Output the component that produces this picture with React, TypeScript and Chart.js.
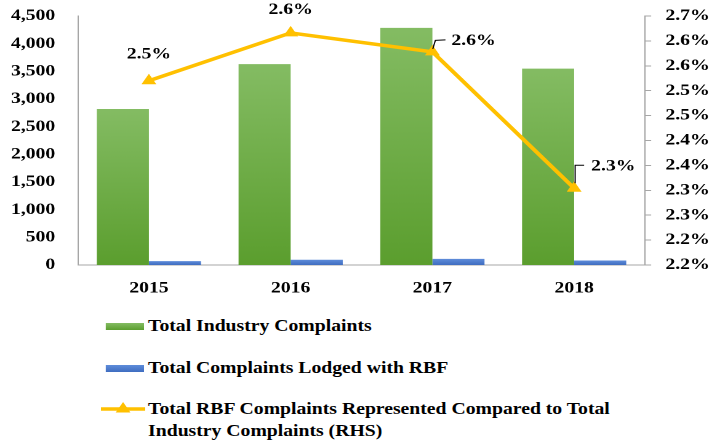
import React, { useEffect, useRef } from 'react';
import { Chart, registerables } from 'chart.js';

Chart.register(...registerables);

// ---------- data ----------
const categories = ['2015', '2016', '2017', '2018'];
const industryComplaints = [2820, 3630, 4285, 3550];
const rbfComplaints = [71, 95, 110, 82];
const rbfShare = [2.52, 2.616, 2.578, 2.304];

const leftTickValues = [0, 500, 1000, 1500, 2000, 2500, 3000, 3500, 4000, 4500];
const rightTickValues = [2.15, 2.2, 2.25, 2.3, 2.35, 2.4, 2.45, 2.5, 2.55, 2.6, 2.65];
const rightTickLabels = ['2.2%', '2.2%', '2.3%', '2.3%', '2.4%', '2.4%', '2.5%', '2.5%', '2.6%', '2.6%', '2.7%'];

const seriesNames = [
  'Total Industry Complaints',
  'Total Complaints Lodged with RBF',
  'Total RBF Complaints Represented Compared to Total',
  'Industry Complaints (RHS)',
];

// ---------- styling / layout ----------
const W = 585; // logical width, stretched horizontally to 720
const SX = 720 / W;
const CH = 300;
const FONT_FAMILY = '"Liberation Serif", "Times New Roman", serif';
const AXIS = '#A6A6A6';
const YELLOW = '#FFC000';

const labelLayout = [
  { dx: 0, dy: -26.5, align: 'center', leader: null },
  { dx: 0, dy: -23, align: 'center', leader: null },
  { dx: 15.4, dy: -11, align: 'left', leader: [[0.3, -3], [2.4, -11.5], [10.6, -12]] },
  { dx: 13.8, dy: -22, align: 'left', leader: [[0.8, -5], [0.8, -23], [8.1, -23]] },
];

const barGradient = (top: string, bottom: string, fallback: string) => (ctx: any) => {
  const chart = ctx.chart;
  const { chartArea, scales } = chart;
  if (!chartArea || ctx.type !== 'data' || !scales.y) return fallback;
  const v = ctx.raw as number;
  const yTop = scales.y.getPixelForValue(v);
  const yBot = scales.y.getPixelForValue(0);
  if (!isFinite(yTop) || !isFinite(yBot) || yBot - yTop < 0.5) return fallback;
  const g = chart.ctx.createLinearGradient(0, yTop, 0, yBot);
  g.addColorStop(0, top);
  g.addColorStop(1, bottom);
  return g;
};

const shareLabelPlugin = {
  id: 'shareLabels',
  afterDatasetsDraw(chart: any) {
    const meta = chart.getDatasetMeta(2);
    const ctx = chart.ctx;
    ctx.save();
    ctx.font = `bold 16px ${FONT_FAMILY}`;
    ctx.fillStyle = '#000';
    ctx.strokeStyle = '#000';
    ctx.lineWidth = 1;
    meta.data.forEach((pt: any, i: number) => {
      const lay = labelLayout[i];
      if (lay.leader) {
        ctx.beginPath();
        lay.leader.forEach(([lx, ly], k) => {
          if (k === 0) ctx.moveTo(pt.x + lx, pt.y + ly);
          else ctx.lineTo(pt.x + lx, pt.y + ly);
        });
        ctx.stroke();
      }
      ctx.textAlign = lay.align;
      ctx.textBaseline = 'middle';
      ctx.fillText(rbfShare[i].toFixed(1) + '%', pt.x + lay.dx, pt.y + lay.dy);
    });
    ctx.restore();
  },
};

const tickFont = { family: FONT_FAMILY, size: 16, weight: 'bold' as const };

export default function App() {
  const ref = useRef<HTMLCanvasElement>(null);

  useEffect(() => {
    const chart = new Chart(ref.current as HTMLCanvasElement, {
      type: 'bar',
      data: {
        labels: categories,
        datasets: [
          {
            type: 'bar',
            label: seriesNames[0],
            data: industryComplaints,
            backgroundColor: barGradient('#84BC63', '#5B9E2E', '#6CAC45'),
            borderWidth: 0,
            categoryPercentage: 0.735,
            barPercentage: 1.0,
            yAxisID: 'y',
            order: 1,
          },
          {
            type: 'bar',
            label: seriesNames[1],
            data: rbfComplaints,
            backgroundColor: barGradient('#5E8CDA', '#3F6DC0', '#4A78C8'),
            borderWidth: 0,
            categoryPercentage: 0.735,
            barPercentage: 1.0,
            yAxisID: 'y',
            order: 2,
          },
          {
            type: 'line',
            label: seriesNames[2] + ' ' + seriesNames[3],
            data: rbfShare,
            borderColor: YELLOW,
            backgroundColor: YELLOW,
            borderWidth: 3.5,
            pointStyle: 'triangle',
            pointRadius: 7,
            pointBorderWidth: 0,
            pointBackgroundColor: YELLOW,
            tension: 0,
            yAxisID: 'y1',
            order: 0,
          } as any,
        ],
      },
      options: {
        animation: false,
        responsive: false,
        devicePixelRatio: 2,
        layout: { padding: { top: 16, left: 0, right: 0, bottom: 0 } },
        plugins: {
          legend: { display: false },
          tooltip: { enabled: false },
        },
        scales: {
          x: {
            type: 'category',
            grid: { display: false, drawTicks: false },
            border: { display: true, color: AXIS, width: 1 },
            ticks: { font: tickFont, color: '#000', padding: 14 },
            afterFit: (s: any) => { s.height = CH - 265; },
          },
          y: {
            position: 'left',
            min: 0,
            max: 4500,
            afterBuildTicks: (s: any) => { s.ticks = leftTickValues.map((v) => ({ value: v })); },
            ticks: {
              font: tickFont,
              color: '#000',
              padding: 18.5,
              callback: (v: any) => Number(v).toLocaleString('en-US'),
            },
            grid: { display: false, drawTicks: false },
            border: { display: true, color: AXIS, width: 1 },
            afterFit: (s: any) => {
              s.width = 78 / SX;
              s.paddingTop = 0;
              s.paddingBottom = 0;
            },
          },
          y1: {
            position: 'right',
            min: 2.15,
            max: 2.65,
            afterBuildTicks: (s: any) => { s.ticks = rightTickValues.map((v) => ({ value: v })); },
            ticks: {
              font: tickFont,
              color: '#000',
              padding: 11.5,
              callback: (_v: any, i: number) => rightTickLabels[i],
            },
            grid: { drawOnChartArea: false, drawTicks: true, tickLength: 5, color: AXIS },
            border: { display: true, color: AXIS, width: 1 },
            afterFit: (s: any) => {
              s.width = W - 645 / SX;
              s.paddingTop = 0;
              s.paddingBottom = 0;
            },
          },
        },
      },
      plugins: [shareLabelPlugin],
    } as any);
    return () => chart.destroy();
  }, []);

  const textStyle: React.CSSProperties = {
    position: 'absolute',
    left: 120.3,
    fontFamily: FONT_FAMILY,
    fontWeight: 'bold',
    fontSize: 16,
    lineHeight: '22px',
    color: '#000',
    whiteSpace: 'nowrap',
  };

  return (
    <div
      style={{
        position: 'absolute',
        left: 0,
        top: 0,
        width: W,
        height: 443,
        background: '#fff',
        overflow: 'hidden',
        transform: `scaleX(${SX})`,
        transformOrigin: '0 0',
      }}
    >
      <canvas ref={ref} width={W} height={CH} style={{ width: `${W}px`, height: `${CH}px`, display: 'block' }} />

      <div style={{ position: 'absolute', left: 86.1, top: 322.5, width: 31, height: 7, background: 'linear-gradient(#84BC63, #5B9E2E)' }} />
      <div style={{ ...textStyle, top: 315 }}>{seriesNames[0]}</div>

      <div style={{ position: 'absolute', left: 86.1, top: 364.5, width: 31, height: 7, background: 'linear-gradient(#5E8CDA, #3F6DC0)' }} />
      <div style={{ ...textStyle, top: 357 }}>{seriesNames[1]}</div>

      <svg style={{ position: 'absolute', left: 82, top: 399 }} width={36} height={20}>
        <line x1={0} y1={10} x2={36} y2={10} stroke={YELLOW} strokeWidth={3.5} />
        <polygon points="18,3 24,13.5 12,13.5" fill={YELLOW} />
      </svg>
      <div style={{ ...textStyle, top: 398 }}>
        {seriesNames[2]}
        <br />
        {seriesNames[3]}
      </div>
    </div>
  );
}
